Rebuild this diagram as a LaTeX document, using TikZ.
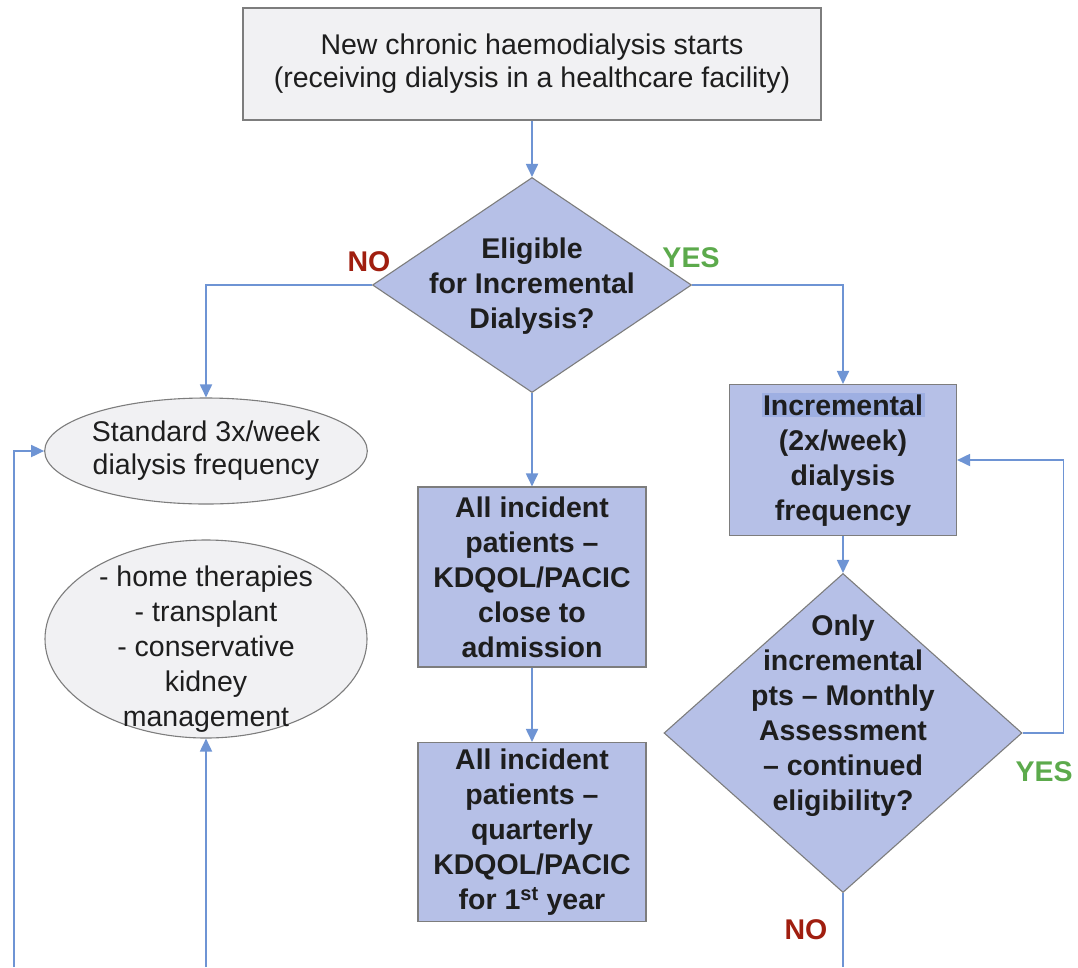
\documentclass[tikz,border=0pt]{standalone}
\usepackage{fontspec}
\setmainfont{Liberation Sans}
\usetikzlibrary{shapes.geometric,arrows.meta}
\definecolor{boxfill}{RGB}{182,192,231}
\definecolor{grayfill}{RGB}{241,241,243}
\definecolor{edgegray}{RGB}{125,125,125}
\definecolor{conn}{RGB}{110,148,212}
\definecolor{nored}{RGB}{160,30,15}
\definecolor{yesgreen}{RGB}{92,170,76}
\definecolor{hl}{RGB}{158,175,226}
\definecolor{txt}{RGB}{30,30,30}
\tikzset{
  regtext/.style={font=\fontsize{28.5}{33}\selectfont, text=txt, align=center},
  boldtext/.style={font=\fontsize{28.5}{35}\selectfont\bfseries, text=txt, align=center},
  graybox/.style={draw=edgegray, line width=1.1pt, fill=grayfill, rectangle, inner sep=0pt},
  bluebox/.style={draw=edgegray, line width=1.1pt, fill=boxfill, rectangle, inner sep=0pt},
  bluediamond/.style={draw=edgegray, line width=1.1pt, fill=boxfill, diamond, inner sep=0pt},
  grayellipse/.style={draw=edgegray, line width=1.1pt, fill=grayfill, ellipse, inner sep=0pt},
  conline/.style={draw=conn, line width=1.8pt},
  conarrow/.style={conline, -{Triangle[length=13pt,width=12pt]}},
  nolabel/.style={font=\fontsize{28.5}{32}\selectfont\bfseries, text=nored},
  yeslabel/.style={font=\fontsize{28.5}{32}\selectfont\bfseries, text=yesgreen},
}
\begin{document}
\begin{tikzpicture}[x=1pt,y=-1pt]
\useasboundingbox[fill=white] (0,0) rectangle (1078,967);

% nodes
\node[graybox, regtext, minimum width=578pt, minimum height=112pt] (top) at (532,64)
  {New chronic haemodialysis starts\\(receiving dialysis in a healthcare facility)};

\node[bluediamond, minimum width=319pt, minimum height=215pt] (d1) at (532,285) {};
\node[boldtext] (d1t) at (532,286) {Eligible\\for Incremental\\Dialysis?};

\node[grayellipse, regtext, minimum width=322pt, minimum height=106pt] (e1) at (206,451)
  {Standard 3x/week\\dialysis frequency};

\node[grayellipse, minimum width=322pt, minimum height=198pt] (e2) at (206,639) {};
\node[regtext, font=\fontsize{28.5}{35}\selectfont] (e2t) at (206,649)
  {- home therapies\\- transplant\\- conservative\\kidney\\management};

\node[bluebox, boldtext, minimum width=228pt, minimum height=180pt] (b2) at (532,577)
  {All incident\\patients --\\KDQOL/PACIC\\close to\\admission};

\node[bluebox, boldtext, minimum width=228pt, minimum height=179pt] (b3) at (532,832)
  {All incident\\patients --\\quarterly\\KDQOL/PACIC\\for 1\textsuperscript{st} year};

\node[bluebox, boldtext, minimum width=227pt, minimum height=151pt] (b4) at (843,460)
  {{\fboxsep=1.5pt\colorbox{hl}{Incremental}}\\(2x/week)\\dialysis\\frequency};

\node[bluediamond, minimum width=358pt, minimum height=319pt] (d2) at (843,733) {};
\node[boldtext] (d2t) at (843,716)
  {Only\\incremental\\pts -- Monthly\\Assessment\\-- continued\\eligibility?};

% labels
\node[nolabel] (no1) at (369,262) {NO};
\node[yeslabel] (yes1) at (691,258) {YES};
\node[yeslabel] (yes2) at (1044,772) {YES};
\node[nolabel] (no2) at (806,930) {NO};

% free ends at the bottom edge
\coordinate (c1) at (14,967);
\coordinate (c2) at (206,967);
\coordinate (c3) at (843,967);

% connectors
\draw[conarrow] (top.south) -- (d1.north);
\draw[conarrow] (d1.south) -- (b2.north);
\draw[conarrow] (b2.south) -- (b3.north);
\draw[conarrow] (d1.west) -| (e1.north);
\draw[conarrow] (d1.east) -| (b4.north);
\draw[conarrow] (b4.south) -- (d2.north);
\draw[conarrow] (d2.east) -- ++(41,0) |- (b4.east);
\draw[conline] (d2.south) -- (c3);
\draw[conarrow] (c1) |- (e1.west);
\draw[conarrow] (c2) -- (e2.south);
\end{tikzpicture}
\end{document}
